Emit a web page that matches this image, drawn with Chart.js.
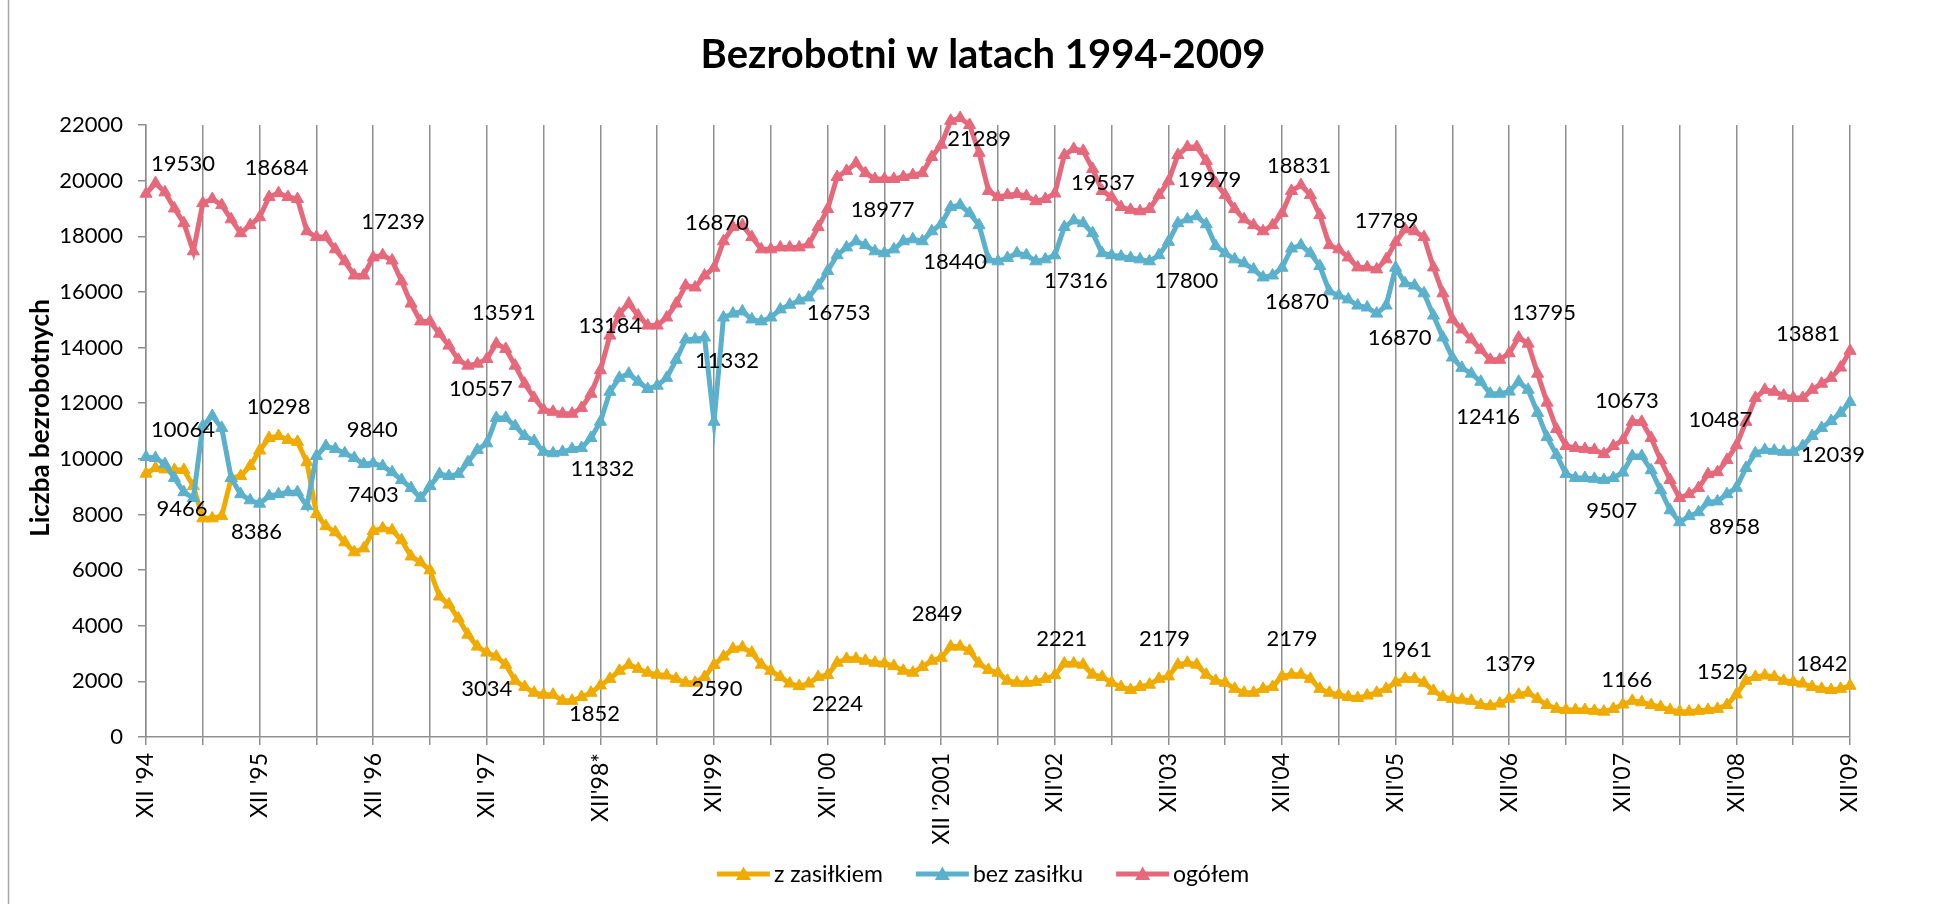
<!DOCTYPE html>
<html lang="pl">
<head>
<meta charset="utf-8">
<title>Bezrobotni w latach 1994-2009</title>
<script src="https://cdn.jsdelivr.net/npm/chart.js@4.4.1/dist/chart.umd.min.js"></script>
<style>
  html, body { margin: 0; padding: 0; background: #fff; }
  #wrap { width: 1935px; height: 904px; }
</style>
</head>
<body>
<div id="wrap"><canvas id="chart" width="1935" height="904"></canvas></div>
<script>
// opisy osi X - co grudzień
const tickLabels = ["XII '94", "XII '95", "XII '96", "XII '97", "XII'98*", "XII'99", "XII' 00", "XII '2001",
                    "XII'02", "XII'03", "XII'04", "XII'05", "XII'06", "XII'07", "XII'08", "XII'09"];

// dane miesięczne XII 1994 - XII 2009
const zZasilkiem = [
  9466, 9670, 9620, 9600, 9600, 9020, 7860, 7860, 7940, 9310, 9380, 9740,
  10298, 10750, 10820, 10680, 10610, 9880, 8010, 7580, 7360, 7000, 6640, 6780,
  7403, 7500, 7430, 7070, 6490, 6280, 5990, 5050, 4760, 4260, 3680, 3250,
  3034, 2890, 2600, 2020, 1800, 1590, 1520, 1520, 1300, 1300, 1440, 1590,
  1852, 2090, 2380, 2600, 2450, 2310, 2240, 2210, 2090, 1950, 1950, 2160,
  2590, 2890, 3170, 3220, 3030, 2600, 2380, 2160, 1920, 1830, 1920, 2160,
  2224, 2670, 2810, 2810, 2740, 2670, 2640, 2550, 2380, 2310, 2520, 2740,
  2849, 3250, 3250, 3100, 2640, 2410, 2310, 2020, 1950, 1950, 1980, 2090,
  2221, 2640, 2640, 2600, 2240, 2160, 1950, 1800, 1690, 1800, 1880, 2090,
  2179, 2600, 2670, 2600, 2240, 2020, 1950, 1730, 1590, 1590, 1730, 1800,
  2179, 2240, 2240, 2090, 1730, 1590, 1520, 1440, 1400, 1490, 1590, 1730,
  1961, 2090, 2090, 1950, 1660, 1440, 1370, 1340, 1300, 1150, 1110, 1200,
  1379, 1520, 1590, 1370, 1150, 1010, 970, 970, 970, 940, 910, 1010,
  1166, 1300, 1250, 1150, 1080, 970, 910, 910, 940, 970, 1010, 1150,
  1529, 2020, 2160, 2210, 2160, 2020, 1980, 1920, 1800, 1730, 1690, 1730,
  1842
];
const bezZasilku = [
  10064, 10030, 9810, 9310, 8800, 8590, 11180, 11540, 11110, 9310, 8730, 8510,
  8386, 8660, 8730, 8800, 8800, 8300, 10100, 10460, 10350, 10200, 10030, 9810,
  9840, 9740, 9520, 9240, 8950, 8590, 9020, 9450, 9380, 9450, 9880, 10320,
  10557, 11470, 11470, 11180, 10820, 10640, 10250, 10200, 10250, 10350, 10390, 10750,
  11332, 12410, 12910, 13060, 12770, 12510, 12630, 12910, 13560, 14290, 14290, 14360,
  11332, 15080, 15220, 15300, 15010, 14940, 15080, 15370, 15540, 15690, 15800, 16230,
  16753, 17320, 17600, 17820, 17680, 17460, 17390, 17530, 17820, 17890, 17820, 18180,
  18440, 19050, 19120, 18830, 18400, 17170, 17100, 17220, 17390, 17320, 17100, 17170,
  17316, 18330, 18570, 18470, 18110, 17390, 17320, 17270, 17220, 17170, 17100, 17320,
  17800, 18470, 18610, 18720, 18430, 17650, 17390, 17170, 17030, 16810, 16520, 16590,
  16870, 17560, 17680, 17390, 16930, 16020, 15870, 15730, 15510, 15440, 15220, 15510,
  16870, 16310, 16230, 15950, 15150, 14360, 13640, 13270, 13060, 12770, 12340, 12340,
  12416, 12770, 12480, 11650, 10780, 10140, 9450, 9310, 9310, 9280, 9240, 9310,
  9507, 10100, 10100, 9590, 8870, 8150, 7720, 7940, 8080, 8440, 8470, 8730,
  8958, 9670, 10200, 10320, 10290, 10250, 10250, 10460, 10820, 11110, 11360, 11650,
  12039
];
const ogolem = [
  19530, 19910, 19580, 19000, 18470, 17460, 19190, 19340, 19120, 18610, 18110, 18400,
  18684, 19410, 19550, 19410, 19340, 18180, 17970, 17970, 17530, 17100, 16590, 16590,
  17239, 17320, 17130, 16380, 15580, 14940, 14940, 14500, 14070, 13560, 13350, 13420,
  13591, 14140, 13950, 13350, 12700, 12190, 11760, 11690, 11620, 11620, 11830, 12340,
  13184, 14430, 15220, 15580, 15150, 14790, 14790, 15080, 15580, 16230, 16160, 16590,
  16870, 17820, 18330, 18400, 17970, 17530, 17530, 17600, 17600, 17600, 17710, 18330,
  18977, 20130, 20350, 20630, 20270, 20060, 20060, 20060, 20130, 20200, 20270, 20850,
  21289, 22150, 22250, 22000, 21000, 19630, 19410, 19480, 19520, 19440, 19260, 19340,
  19537, 20920, 21140, 21070, 20420, 19630, 19410, 19050, 18950, 18900, 18980, 19480,
  19979, 20920, 21210, 21210, 20710, 19910, 19480, 18980, 18610, 18400, 18180, 18400,
  18831, 19630, 19840, 19480, 18760, 17680, 17530, 17240, 16880, 16880, 16810, 17170,
  17789, 18250, 18180, 17970, 16880, 15950, 15010, 14650, 14290, 13920, 13560, 13560,
  13795, 14360, 14140, 13060, 12020, 11070, 10460, 10390, 10350, 10320, 10170, 10460,
  10673, 11330, 11330, 10750, 9950, 9240, 8590, 8730, 8950, 9450, 9520, 9960,
  10487, 11330, 12190, 12480, 12410, 12270, 12190, 12190, 12480, 12700, 12910, 13280,
  13881
];

// podpisy wartości: [seria, miesiąc, przesunięcie x, przesunięcie y]
const labelPlacement = [
  [0, 0, 36, 35], [0, 12, 19, -44], [0, 24, 0, -36], [0, 36, 0, 36],
  [0, 48, -6, 28], [0, 60, 3, 24], [0, 72, 10, 29], [0, 84, -4, -44],
  [0, 96, 7, -36], [0, 108, -4, -37], [0, 120, 10, -37], [0, 132, 11, -33],
  [0, 144, 1, -35], [0, 156, 4, -25], [0, 168, -14, -23], [0, 180, -28, -22],
  [1, 0, 37, -27], [1, 12, -3, 28], [1, 24, -1, -33], [1, 36, -6, -54],
  [1, 48, 2, 47], [1, 60, 13, -61], [1, 72, 11, 42], [1, 84, 14, 38],
  [1, 96, 21, 26], [1, 108, 18, 39], [1, 120, 15, 34], [1, 132, 4, 70],
  [1, 144, -21, 25], [1, 156, -11, 38], [1, 168, -2, 39], [1, 180, -17, 53],
  [2, 0, 37, -30], [2, 12, 17, -49], [2, 24, 20, -36], [2, 36, 17, -46],
  [2, 48, 10, -44], [2, 60, 3, -45], [2, 72, 55, 1], [2, 84, 38, -6],
  [2, 96, 48, -11], [2, 108, 41, -1], [2, 120, 17, -47], [2, 132, -9, -21],
  [2, 144, 35, -40], [2, 156, 4, -39], [2, 168, -16, -25], [2, 180, -42, -17]
];

const seriesNames = ['z zasiłkiem', 'bez zasiłku', 'ogółem'];
const colors = ['#F0AB00', '#5BB1CB', '#E6687B'];
const gridColor = '#8f8f8f';
const titleText = 'Bezrobotni w latach 1994-2009';
const yTitleText = 'Liczba bezrobotnych';

const labels = [];
for (let i = 0; i < ogolem.length; i++) {
  labels.push(i % 12 === 0 ? tickLabels[i / 12] : '');
}

// linia z trójkątem (symbol legendy)
function drawLegendIcon(ctx, x, y, color) {
  ctx.strokeStyle = color;
  ctx.fillStyle = color;
  ctx.lineWidth = 5;
  ctx.beginPath();
  ctx.moveTo(x, y);
  ctx.lineTo(x + 53, y);
  ctx.stroke();
  ctx.beginPath();
  ctx.moveTo(x + 26.5, y - 7.5);
  ctx.lineTo(x + 34, y + 6);
  ctx.lineTo(x + 19, y + 6);
  ctx.closePath();
  ctx.fill();
}

const background = {
  id: 'background',
  beforeDraw(chart) {
    const ctx = chart.ctx;
    ctx.save();
    ctx.fillStyle = '#fff';
    ctx.fillRect(0, 0, chart.width, chart.height);
    ctx.strokeStyle = '#a6a6a6';
    ctx.lineWidth = 1.5;
    ctx.beginPath();
    ctx.moveTo(8.5, 0);
    ctx.lineTo(8.5, chart.height);
    ctx.stroke();
    ctx.restore();
  }
};

// tytuł, tytuł osi Y i legenda
const decorations = {
  id: 'decorations',
  afterDraw(chart) {
    const ctx = chart.ctx;
    const cx = 983;
    ctx.save();
    ctx.fillStyle = '#000';
    ctx.textBaseline = 'middle';

    ctx.font = 'bold 40px Lato';
    ctx.textAlign = 'center';
    ctx.fillText(titleText, cx, 55);

    ctx.save();
    ctx.translate(41, 418);
    ctx.rotate(-Math.PI / 2);
    ctx.font = 'bold 26px Lato';
    ctx.fillText(yTitleText, 0, 0);
    ctx.restore();

    ctx.font = '23px Lato';
    ctx.textAlign = 'left';
    const iconW = 53, gap = 4, spacing = 33;
    const widths = seriesNames.map(n => iconW + gap + ctx.measureText(n).width);
    const total = widths.reduce((a, b) => a + b, 0) + spacing * (widths.length - 1);
    let x = cx - total / 2;
    const y = 874;
    seriesNames.forEach((name, i) => {
      drawLegendIcon(ctx, x, y, colors[i]);
      ctx.fillStyle = '#000';
      ctx.fillText(name, x + iconW + gap, y + 1);
      x += widths[i] + spacing;
    });
    ctx.restore();
  }
};

const dataLabels = {
  id: 'dataLabels',
  afterDatasetsDraw(chart) {
    const ctx = chart.ctx;
    ctx.save();
    ctx.font = '22px Lato';
    ctx.fillStyle = '#000';
    ctx.textAlign = 'center';
    ctx.textBaseline = 'middle';
    labelPlacement.forEach(([ds, i, dx, dy]) => {
      const pt = chart.getDatasetMeta(ds).data[i];
      const value = chart.data.datasets[ds].data[i];
      ctx.fillText(String(value), pt.x + dx, pt.y + dy);
    });
    ctx.restore();
  }
};

function series(data, i) {
  return {
    label: seriesNames[i],
    data: data,
    borderColor: colors[i],
    backgroundColor: colors[i],
    borderWidth: 5,
    pointStyle: 'triangle',
    pointRadius: 7,
    pointBorderWidth: 1,
    pointBorderColor: colors[i],
    pointBackgroundColor: colors[i],
    tension: 0,
    clip: false,
    order: 3 - i
  };
}

Chart.defaults.font.family = 'Lato';
Chart.defaults.color = '#000';

new Chart(document.getElementById('chart'), {
  type: 'line',
  data: {
    labels: labels,
    datasets: [
      series(zZasilkiem, 0),
      series(bezZasilku, 1),
      series(ogolem, 2)
    ]
  },
  options: {
    responsive: false,
    animation: false,
    layout: { padding: { left: 10, right: 85, top: 125, bottom: 0 } },
    plugins: {
      title: { display: false },
      legend: { display: false },
      tooltip: { enabled: false }
    },
    scales: {
      x: {
        type: 'category',
        offset: false,
        afterFit(scale) { scale.height = 167; },
        grid: {
          drawOnChartArea: true,
          tickLength: 8,
          lineWidth: 1.5,
          color: (c) => (c.index % 6 === 0 ? gridColor : 'rgba(0,0,0,0)')
        },
        border: { display: true, color: gridColor, width: 1.5 },
        ticks: {
          autoSkip: false,
          minRotation: 90,
          maxRotation: 90,
          padding: 8,
          font: { size: 23 },
          color: '#000'
        }
      },
      y: {
        min: 0,
        max: 22000,
        afterFit(scale) { scale.width = 136; },
        grid: { drawOnChartArea: false, tickLength: 8, lineWidth: 1.5, color: gridColor },
        border: { display: true, color: gridColor, width: 1.5 },
        ticks: {
          stepSize: 1000,
          padding: 15,
          font: { size: 22 },
          color: '#000',
          callback: (v) => String(v)
        }
      }
    }
  },
  plugins: [background, dataLabels, decorations]
});
</script>
</body>
</html>
